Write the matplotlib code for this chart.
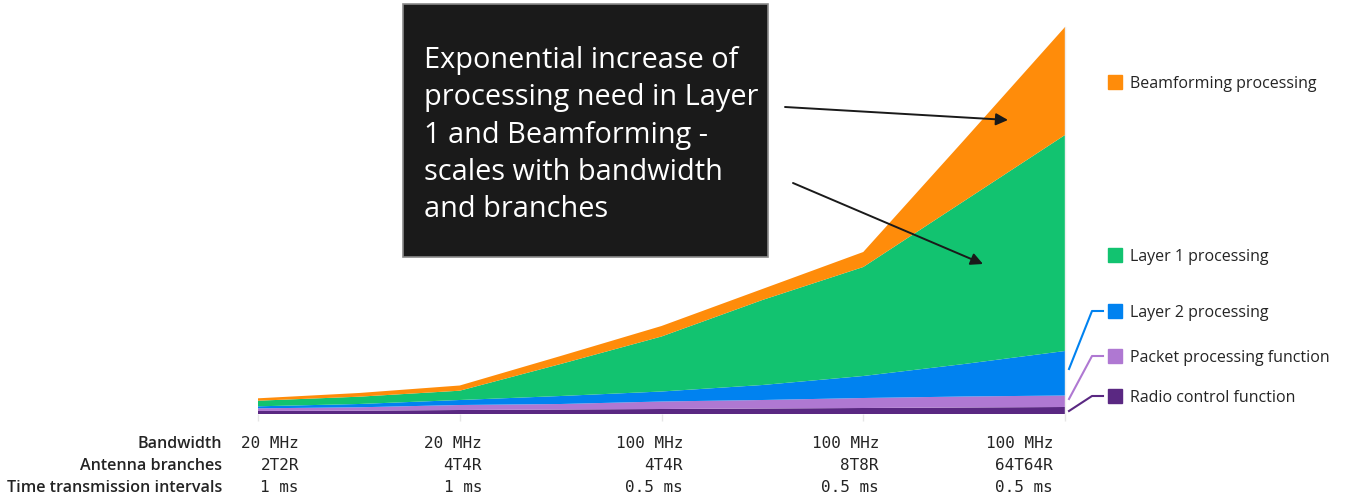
import numpy as np
import matplotlib.pyplot as plt
from matplotlib.patches import Rectangle
from matplotlib.lines import Line2D

# Stage positions (ticks at whole numbers, readings also taken halfway)
x = [0, 0.5, 1, 1.5, 2, 2.5, 3, 3.5, 4]

# Layer thicknesses (relative load)
radio_control = [3, 3.3, 4, 4.5, 5, 5.5, 6, 6.5, 7]
packet_proc = [2.7, 3.4, 5, 5.5, 7.5, 8.5, 10, 11, 11.5]
layer2 = [2, 3.3, 5, 8, 10, 15, 22, 32.5, 44.5]
layer1 = [5.6, 7.3, 9.3, 32, 55, 85, 109, 163, 216]
beamforming = [2.4, 3.7, 5.2, 8, 10.5, 11, 15, 61, 108]

series_names = ['Radio control function', 'Packet processing function',
                'Layer 2 processing', 'Layer 1 processing', 'Beamforming processing']
colors = ['#5a2882', '#af78d2', '#0082f0', '#12c370', '#ff8c0a']

# Table under the chart
row_labels = ['Bandwidth', 'Antenna branches', 'Time transmission intervals']
bandwidth = ['20 MHz', '20 MHz', '100 MHz', '100 MHz', '100 MHz']
antennas = ['2T2R', '4T4R', '4T4R', '8T8R', '64T64R']
tti = ['1 ms', '1 ms', '0.5 ms', '0.5 ms', '0.5 ms']

W, H = 1347, 502


def px(xp, yp):
    # pixel position (from top-left) to figure fraction
    return xp / W, 1 - yp / H


plt.rcParams['font.family'] = ['Open Sans', 'DejaVu Sans']
fig = plt.figure(figsize=(W / 100, H / 100), dpi=100)
ax = fig.add_axes([258 / W, 87 / H, 807 / W, 387 / H])

ax.stackplot(x, radio_control, packet_proc, layer2, layer1, beamforming,
             colors=colors, linewidth=0)
ax.set_xlim(0, 4)
ax.set_ylim(0, 387)
ax.set_xticks([0, 1, 2, 3, 4])
ax.set_xticklabels([])
ax.set_yticks([])
ax.tick_params(axis='x', length=5, color='#e6e6e6', width=1, pad=0)
for s in ['top', 'left', 'bottom']:
    ax.spines[s].set_visible(False)
ax.spines['right'].set_color('#eeeeee')
ax.spines['right'].set_linewidth(1)

# table text
col_right = [299, 482, 683, 879, 1053]
rows_y = [444, 466, 488]
for lab, yp in zip(row_labels, rows_y):
    fig.text(*px(222, yp), lab, ha='right', va='center', fontsize=11.6,
             fontweight='semibold', color='#242424')
for vals, yp in zip([bandwidth, antennas, tti], rows_y):
    for v, xr in zip(vals, col_right):
        fig.text(*px(xr, yp), v, ha='right', va='center', fontsize=11.5,
                 family='DejaVu Sans Mono', color='#242424')

# legend, placed next to each layer
leg_y = [397, 357, 312, 256, 83]
for name, c, yp in zip(series_names, colors, leg_y):
    fig.patches.append(Rectangle(px(1108, yp + 7), 14 / W, 14 / H,
                                 transform=fig.transFigure, color=c))
    fig.text(*px(1130, yp + 1), name, ha='left', va='center', fontsize=11.5,
             color='#242424')

# leader lines for the thin layers
leaders = [((1069, 412), (1092, 397), (1103, 397)),
           ((1069, 400), (1092, 357), (1103, 357)),
           ((1069, 370), (1092, 312), (1103, 312))]
for pts, c in zip(leaders, colors[:3]):
    xs = [px(*p)[0] for p in pts]
    ys = [px(*p)[1] for p in pts]
    fig.lines.append(Line2D(xs, ys, transform=fig.transFigure, color=c, lw=1.5))

# dark call-out box
bx0, by0 = px(403, 258)
fig.patches.append(Rectangle((bx0, by0), 365 / W, 253 / H, transform=fig.transFigure,
                             facecolor='#1a1a1a', edgecolor='#8a8a8a', lw=1.2))
fig.text(*px(424, 46), 'Exponential increase of\nprocessing need in Layer\n'
         '1 and Beamforming -\nscales with bandwidth\nand branches',
         ha='left', va='top', fontsize=20.8, color='white', linespacing=1.38)

arrow = dict(arrowstyle='-|>', color='#1a1a1a', lw=1.4, mutation_scale=18,
             shrinkA=0, shrinkB=0)
ax.annotate('', xy=px(1008, 121), xytext=px(785, 108), xycoords='figure fraction',
            textcoords='figure fraction', arrowprops=arrow)
ax.annotate('', xy=px(983, 265), xytext=px(793, 184), xycoords='figure fraction',
            textcoords='figure fraction', arrowprops=arrow)

fig.savefig('out.png', dpi=100)
